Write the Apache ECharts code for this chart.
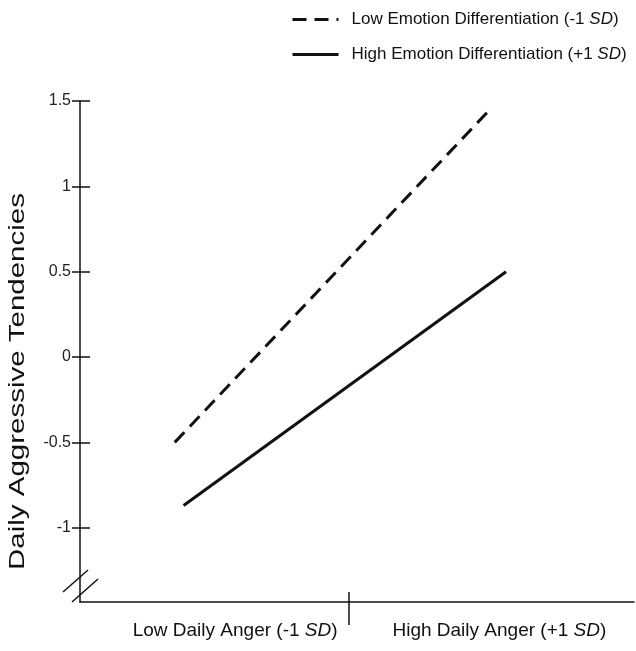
<!DOCTYPE html>
<html>
<head>
<meta charset="utf-8">
<script src="https://cdn.jsdelivr.net/npm/echarts@6/dist/echarts.min.js"></script>
<style>
  html, body { margin: 0; padding: 0; background: #fff; }
  #chart { width: 636px; height: 651px; }
</style>
</head>
<body>
<div id="chart"></div>
<script>
// x runs 0..1 across the axis; anger levels sit where the picture puts them
const angerLabels = ['Low Daily Anger (-1 ', 'High Daily Anger (+1 '];
const angerLabelX = [0.28, 0.757];
const angerTickX = [0.486];

const lowDiffName = 'Low Emotion Differentiation (-1 SD)';
const lowDiffX = [0.171, 0.737];
const lowDiffY = [-0.5, 1.44];

const highDiffName = 'High Emotion Differentiation (+1 SD)';
const highDiffX = [0.187, 0.769];
const highDiffY = [-0.87, 0.5];

const yTicks = [-1, -0.5, 0, 0.5, 1, 1.5];
const yMin = -1.435;
const yMax = 1.5;

const font = 'Liberation Sans, Arial, sans-serif';
const ink = '#111';

const chart = echarts.init(document.getElementById('chart'));

const pairs = (xs, ys) => xs.map((x, i) => [x, ys[i]]);

const option = {
    animation: false,
    backgroundColor: '#fff',
    grid: { left: 80, right: 2, top: 101, bottom: 49, containLabel: false },
    legend: {
        orient: 'vertical',
        left: 286,
        top: 6,
        itemWidth: 46,
        itemHeight: 20,
        itemGap: 18,
        data: [lowDiffName, highDiffName],
        itemStyle: { opacity: 0 },
        lineStyle: { width: 3 },
        formatter: name => {
            const base = name.replace('SD)', '');
            return '{n|' + base + '}{i|SD}{n|)}';
        },
        textStyle: {
            padding: [0, 0, 0, 8],
            rich: {
                n: { fontFamily: font, fontSize: 17, color: ink },
                i: { fontFamily: font, fontSize: 17, color: ink, fontStyle: 'italic' }
            }
        }
    },
    xAxis: [
        {
            type: 'value', min: 0, max: 1,
            splitLine: { show: false },
            axisLine: { show: true, onZero: false, lineStyle: { color: ink, width: 1.5 } },
            axisTick: { show: true, customValues: angerTickX, length: 23, lineStyle: { color: ink, width: 1.5 } },
            axisLabel: {
                customValues: angerLabelX,
                margin: 19,
                formatter: v => {
                    let k = 0;
                    angerLabelX.forEach((x, i) => { if (Math.abs(x - v) < Math.abs(angerLabelX[k] - v)) k = i; });
                    return '{n|' + angerLabels[k] + '}{i|SD}{n|)}';
                },
                rich: {
                    n: { fontFamily: font, fontSize: 19, color: ink },
                    i: { fontFamily: font, fontSize: 19, color: ink, fontStyle: 'italic' }
                }
            }
        },
        {
            type: 'value', min: 0, max: 1, position: 'bottom',
            splitLine: { show: false },
            axisLine: { show: false, onZero: false },
            axisLabel: { show: false },
            axisTick: { show: true, inside: true, customValues: angerTickX, length: 10, lineStyle: { color: ink, width: 1.5 } }
        }
    ],
    yAxis: [
        {
            type: 'value', min: yMin, max: yMax,
            splitLine: { show: false },
            axisLine: { show: true, onZero: false, lineStyle: { color: ink, width: 1.5 } },
            axisTick: { show: true, customValues: yTicks, length: 8, lineStyle: { color: ink, width: 1.5 } },
            axisLabel: {
                customValues: yTicks,
                margin: 9,
                fontFamily: font,
                fontSize: 16,
                color: '#222',
                formatter: v => String(v)
            }
        },
        {
            type: 'value', min: yMin, max: yMax, position: 'left',
            splitLine: { show: false },
            axisLine: { show: false, onZero: false },
            axisLabel: { show: false },
            axisTick: { show: true, inside: true, customValues: yTicks, length: 10, lineStyle: { color: ink, width: 1.5 } }
        }
    ],
    series: [
        {
            name: lowDiffName,
            type: 'line',
            data: pairs(lowDiffX, lowDiffY),
            symbol: 'none',
            lineStyle: { color: ink, width: 3, type: [14, 8] },
            itemStyle: { color: ink }
        },
        {
            name: highDiffName,
            type: 'line',
            data: pairs(highDiffX, highDiffY),
            symbol: 'none',
            lineStyle: { color: ink, width: 3 },
            itemStyle: { color: ink }
        }
    ]
};

chart.setOption(option);

// y title (stretched like the scan) and the axis-break marks at the origin
const origin = chart.convertToPixel({ xAxisIndex: 0, yAxisIndex: 0 }, [0, yMin]);
const mid = chart.convertToPixel({ yAxisIndex: 0 }, (yMin + yMax) / 2);
chart.setOption({
    graphic: [
        {
            type: 'text',
            x: 18,
            y: mid + 30,
            rotation: Math.PI / 2,
            scaleX: 1.34,
            style: {
                text: 'Daily Aggressive Tendencies',
                font: '22px ' + font,
                fill: ink,
                align: 'center',
                verticalAlign: 'middle'
            }
        },
        {
            type: 'line',
            shape: { x1: origin[0] - 17, y1: origin[1] - 10, x2: origin[0] + 8, y2: origin[1] - 32 },
            style: { stroke: ink, lineWidth: 1.5 }
        },
        {
            type: 'line',
            shape: { x1: origin[0] - 8, y1: origin[1], x2: origin[0] + 18, y2: origin[1] - 23 },
            style: { stroke: ink, lineWidth: 1.5 }
        }
    ]
});
</script>
</body>
</html>
